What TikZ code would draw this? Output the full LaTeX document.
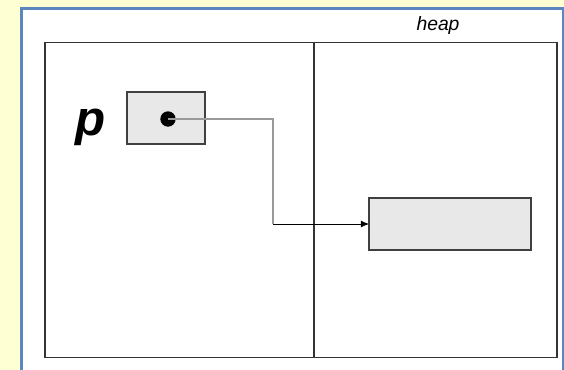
\documentclass[tikz,border=0pt]{standalone}
\usepackage{fontspec}
\setmainfont{Liberation Sans}
\usetikzlibrary{arrows.meta,positioning}
\definecolor{bgyellow}{HTML}{FFFFD4}
\definecolor{frameblue}{HTML}{5B86C0}
\definecolor{cellgray}{HTML}{E8E8E8}

\begin{document}
\begin{tikzpicture}[x=0.03cm,y=-0.03cm,>={Latex[length=7pt,width=6pt]},
        region/.style={draw=black!80,line width=1.2pt,inner sep=0pt,outer sep=0pt,
            minimum height=9.45cm},
        cell/.style={draw=black!75,fill=cellgray,line width=1.1pt,inner sep=0pt,outer sep=0pt,
            minimum height=1.56cm},
        dot/.style={circle,fill=black,inner sep=0pt,minimum size=0.46cm}]

    \useasboundingbox (0,0) rectangle (564,370);
    \fill[bgyellow] (0,0) rectangle (564,370);
    \fill[white] (21.5,8.5) rectangle (563,370);
    \draw[frameblue,line width=1.8pt] (21.5,370) -- (21.5,8.5) -- (563,8.5) -- (563,370);

    \node[region,minimum width=8.07cm] (stack) at (179.5,200) {};
    \node[region,minimum width=7.29cm,right=0pt of stack] (heap) {};
    \node[font=\itshape\fontsize{16.5pt}{16.5pt}\selectfont,anchor=base] (heaplbl) at (438,31) {heap};

    \node[cell,minimum width=2.34cm] (ptr) at (166,118) {};
    \node[dot] (ref) at (168,119) {};
    \node[font=\bfseries\itshape\fontsize{42pt}{42pt}\selectfont,anchor=base] (p) at (91,135) {p};

    \node[cell,minimum width=4.86cm] (obj) at (450,224) {};
    \coordinate (bend) at (273,224);

    \draw[black!40,line width=1.3pt] (ref.center) -| (bend);
    \draw[->,line width=0.7pt] (bend) -- (obj);

\end{tikzpicture}
\end{document}
